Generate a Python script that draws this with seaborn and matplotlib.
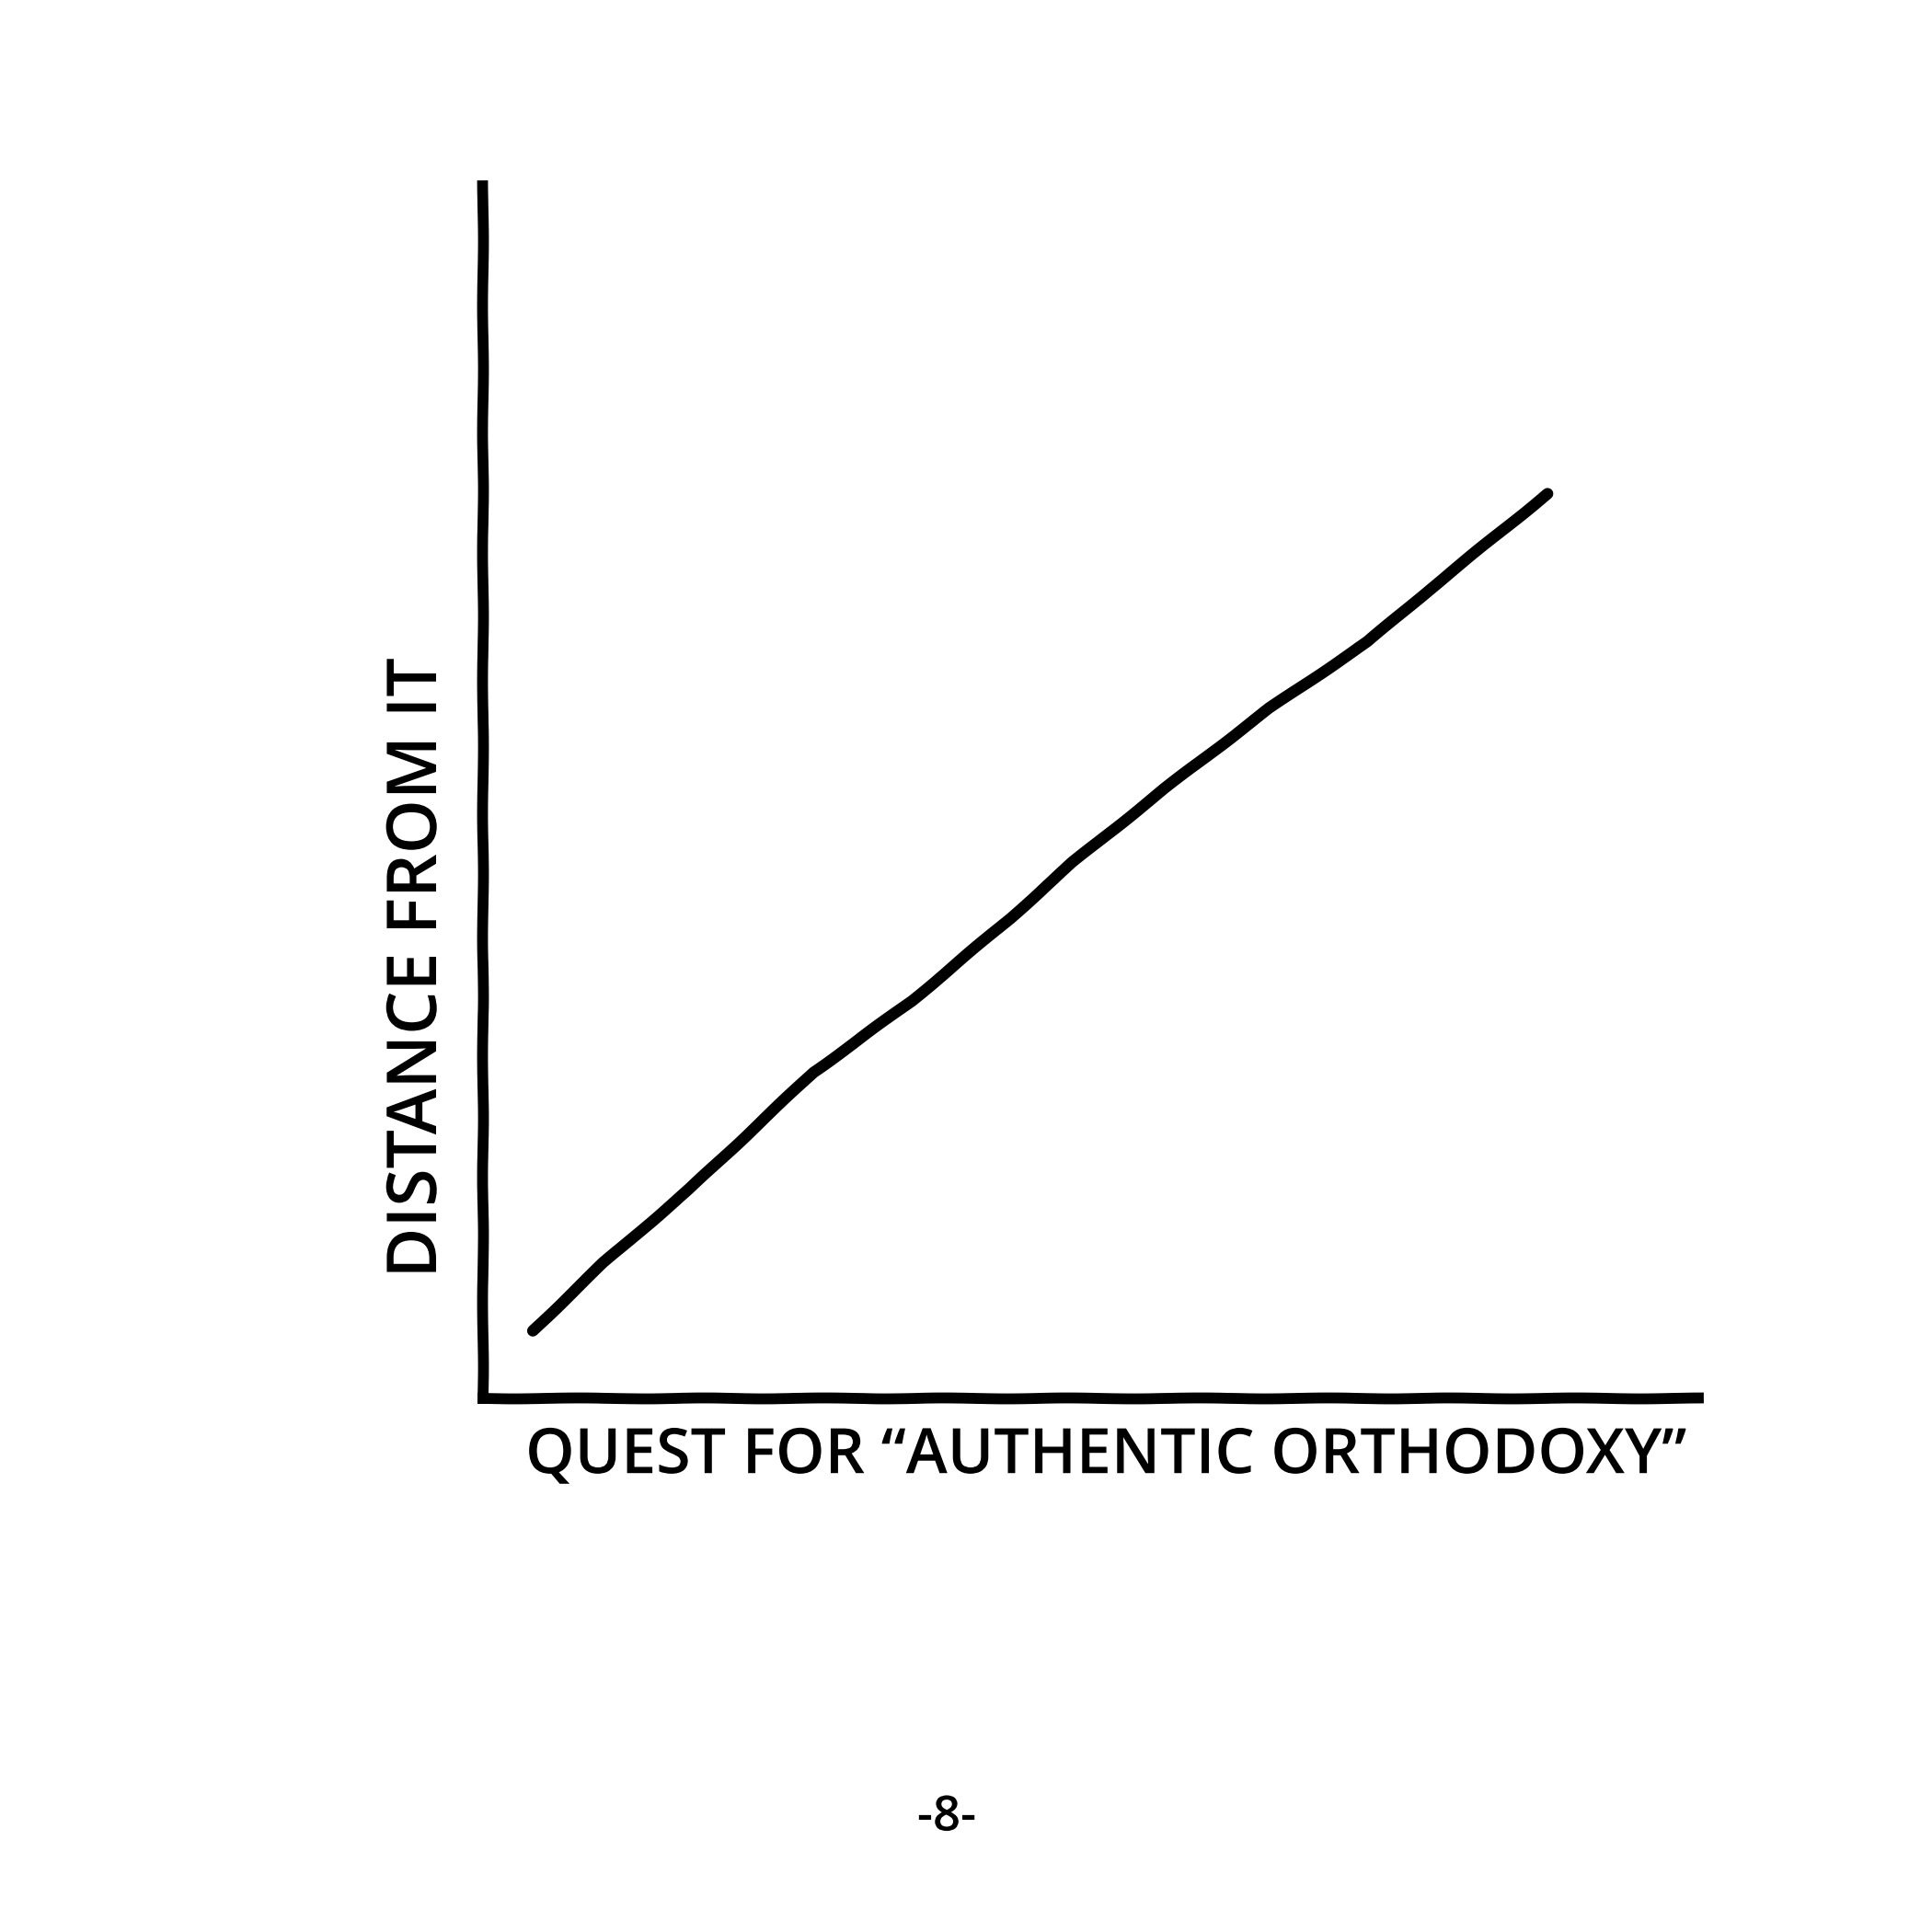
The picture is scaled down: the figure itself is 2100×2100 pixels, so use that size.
import matplotlib
matplotlib.use("Agg")
import matplotlib.pyplot as plt
import seaborn as sns

# values
quest = [0.41, 0.99, 1.70, 2.72, 3.53, 4.34, 4.85, 5.61, 6.47, 7.28, 7.79, 8.76]
distance = [0.56, 1.12, 1.73, 2.69, 3.28, 3.96, 4.42, 5.03, 5.69, 6.24, 6.67, 7.46]

x_label = "QUEST FOR \u201cAUTHENTIC ORTHODOXY\u201d"
y_label = "DISTANCE FROM IT"
page_no = "-8-"

sns.set_style("white")
plt.xkcd(scale=0.5, length=150, randomness=2)
plt.rcParams['font.family'] = ['Open Sans', 'DejaVu Sans']
plt.rcParams['text.color'] = 'black'
plt.rcParams['axes.labelcolor'] = 'black'

fig = plt.figure(figsize=(21, 21), dpi=100)
ax = fig.add_axes([0.25, 0.276, 0.629, 0.628])
sns.lineplot(x=quest, y=distance, ax=ax, color="black", linewidth=9)
ax.set_xlim(0, 10)
ax.set_ylim(0, 10)

for side in ["top", "right"]:
    ax.spines[side].set_visible(False)
for side in ["left", "bottom"]:
    ax.spines[side].set_linewidth(8.5)
    ax.spines[side].set_color("black")
ax.set_xticks([])
ax.set_yticks([])

ax.set_xlabel(x_label, fontsize=49, fontweight="semibold")
ax.set_ylabel(y_label, fontsize=54, fontweight="semibold")
ax.xaxis.set_label_coords(0.512, -0.048)
ax.yaxis.set_label_coords(-0.053, 0.355)
ax.xaxis.label.set_va("center")
ax.yaxis.label.set_va("center")
fig.text(0.49, 0.059, page_no, fontsize=38, fontweight="semibold", ha="center", va="center")

fig.savefig("out.png", dpi=100, facecolor="white")
